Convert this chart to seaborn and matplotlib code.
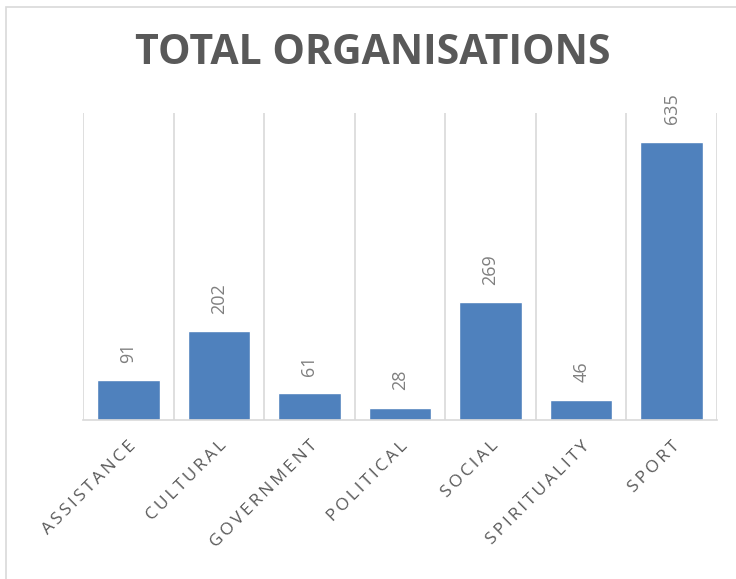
import matplotlib
matplotlib.use("Agg")
import matplotlib.pyplot as plt
import seaborn as sns
import pandas as pd
from matplotlib.patches import Rectangle

categories = ["ASSISTANCE", "CULTURAL", "GOVERNMENT", "POLITICAL", "SOCIAL", "SPIRITUALITY", "SPORT"]
totals = [91, 202, 61, 28, 269, 46, 635]

df = pd.DataFrame({"category": categories, "total": totals})

sns.set_style("white")
plt.rcParams["font.family"] = ["Open Sans", "DejaVu Sans"]

fig = plt.figure(figsize=(7.36, 5.79), dpi=100)
ax = fig.add_axes([83 / 736, 1 - 420 / 579, (717 - 83) / 736, (420 - 113) / 579])

sns.barplot(data=df, x="category", y="total", color="#4f81bd", width=0.69,
            saturation=1, ax=ax)

ax.set_ylim(0, 700)
ax.set_xlim(-0.5, len(categories) - 0.5)

# gridlines between categories
for b in range(len(categories) + 1):
    ax.axvline(b - 0.5, color="#d9d9d9", lw=1.2, zorder=0)

for s in ["top", "right", "left"]:
    ax.spines[s].set_visible(False)
ax.spines["bottom"].set_color("#d9d9d9")
ax.spines["bottom"].set_linewidth(1.2)

ax.set_yticks([])
ax.set_xlabel("")
ax.set_ylabel("")
ax.tick_params(axis="x", length=0, pad=13)
ax.set_xticks(range(len(categories)))
# letter-spaced labels like the original
spaced = ["\u2009".join(c) for c in categories]
ax.set_xticklabels(spaced, rotation=45, ha="right", rotation_mode="anchor",
                   fontsize=12.5, color="#595959")
for lbl in ax.get_xticklabels():
    lbl.set_family(["Open Sans", "DejaVu Sans"])

for i, v in enumerate(totals):
    ax.annotate(str(v), (i, v), xytext=(0, 12.5), textcoords="offset points",
                rotation=90, ha="center", va="bottom", fontsize=13, color="#7f7f7f")

fig.text(373 / 736, 1 - 53 / 579, "TOTAL ORGANISATIONS", ha="center", va="center",
         fontsize=29.5, fontweight="bold", color="#595959")

fig.patches.append(Rectangle((6 / 736, -0.1), 1.2, 1 - 7 / 579 + 0.1,
                             transform=fig.transFigure, fill=False,
                             edgecolor="#d9d9d9", lw=1.2))

fig.savefig("out.png", dpi=100)
